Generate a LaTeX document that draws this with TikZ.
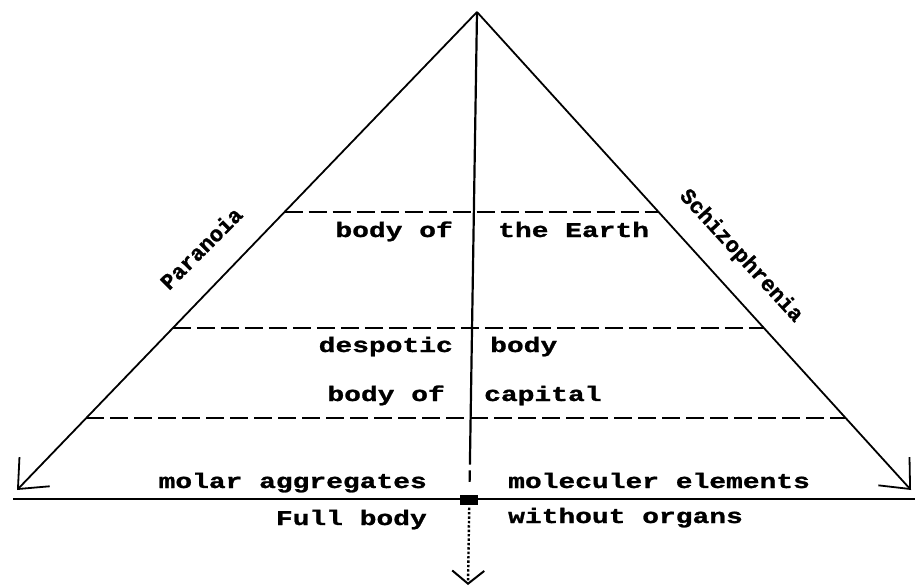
\documentclass[tikz,border=0pt]{standalone}
\usepackage{fontspec}
\usetikzlibrary{arrows.meta,calc}
\newfontfamily\twfont{Liberation Mono}[FakeStretch=1.33,FakeBold=1.2]
\newfontfamily\tnfont{Liberation Mono}[FakeBold=1]
\begin{document}
\begin{tikzpicture}[x=1pt,y=-1pt,
  side/.style={line width=1.8pt,-{Straight Barb[length=24pt,width=42pt,line width=1.8pt]}},
  level/.style={line width=1.5pt,dash pattern=on 18pt off 6pt},
  lbl/.style={inner sep=0pt,font=\twfont\bfseries\fontsize{21}{21}\selectfont},
  slbl/.style={inner sep=0pt,font=\tnfont\bfseries\fontsize{22}{22}\selectfont}
]
\fill[white] (0,0) rectangle (915,588);
\useasboundingbox (0,0) rectangle (915,588);

\coordinate (A) at (477,12);
\coordinate (L) at (17,490);
\coordinate (R) at (911,490);
\coordinate (B) at (468,585);
\coordinate (BL) at (13,499);
\coordinate (BR) at (915,499);

% sides
\draw[side] (A) -- (L);
\draw[side] (A) -- (R);
% base
\draw[line width=2pt] (BL) -- (BR);
% level lines
\draw[level] ($(A)!0.4184!(L)$) -- ($(A)!0.4184!(R)$);
\draw[level] ($(A)!0.6611!(L)$) -- ($(A)!0.6611!(R)$);
\draw[level] ($(A)!0.8494!(L)$) -- ($(A)!0.8494!(R)$);

% vertical axis
\draw[line width=2.2pt] (A) -- ($(A)!0.79!(B)$);
\draw[line width=2.2pt] ($(A)!0.80!(B)$) -- ($(A)!0.82!(B)$);
\fill ($(A)!0.851!(B)$) ++(-9,-5) rectangle ++(18,10);
\draw[line width=2.4pt,dotted,-{Straight Barb[length=13pt,width=32pt,line width=2pt]}] ($(A)!0.865!(B)$) -- (B);

% side labels
\node[slbl,rotate=45] (par) at (201,248) {Paranoia};
\node[slbl,rotate=-47.5] (sch) at (741,256) {Schizophrenia};

% level labels
\node[lbl,anchor=base east] (e1) at (453,237) {body of};
\node[lbl,anchor=base west] (e2) at (498,237) {the Earth};
\node[lbl,anchor=base east] (d1) at (453,352) {despotic};
\node[lbl,anchor=base west] (d2) at (490,352) {body};
\node[lbl,anchor=base east] (c1) at (445,401) {body of};
\node[lbl,anchor=base west] (c2) at (484,401) {capital};
\node[lbl,anchor=base east] (m1) at (427,488) {molar aggregates};
\node[lbl,anchor=base west] (m2) at (508,488) {moleculer elements};
\node[lbl,anchor=base east] (f1) at (427,525) {Full body};
\node[lbl,anchor=base west] (f2) at (508,523) {without organs};
\end{tikzpicture}
\end{document}
